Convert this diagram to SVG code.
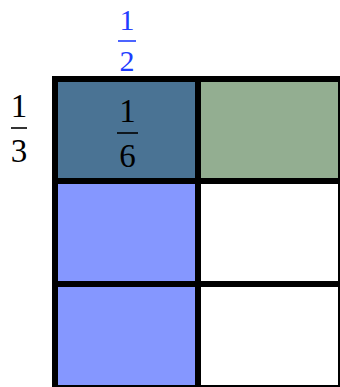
<svg xmlns="http://www.w3.org/2000/svg" width="340" height="387" viewBox="0 0 340 387">
<style>
.t{font-family:"Liberation Serif","Times New Roman",serif;font-size:33px;text-anchor:middle}
.s{font-size:30px}
.blue{fill:#1f3dff}
.bar{stroke-width:1.6}
.grid{stroke:#000;stroke-width:6;fill:none}
</style>
<rect width="340" height="387" fill="#fff"/>
<g id="cells">
<rect x="55" y="79" width="143" height="102" fill="#4a7394"/>
<rect x="198" y="79" width="143" height="102" fill="#93ae91"/>
<rect x="55" y="181" width="143" height="103" fill="#8597ff"/>
<rect x="55" y="284" width="143" height="104" fill="#8597ff"/>
</g>
<g id="grid" class="grid">
<rect x="55" y="79" width="286" height="309"/>
<line x1="198" y1="79" x2="198" y2="388"/>
<line x1="55" y1="181" x2="341" y2="181"/>
<line x1="55" y1="284" x2="341" y2="284"/>
</g>
<g id="label-half">
<text class="t s blue" x="127" y="30">1</text>
<line class="bar" x1="118" y1="41" x2="136" y2="41" stroke="#1f3dff"/>
<text class="t s blue" x="127" y="71">2</text>
</g>
<g id="label-third">
<text class="t" x="19" y="117">1</text>
<line class="bar" x1="11" y1="128" x2="27" y2="128" stroke="#000"/>
<text class="t" x="19" y="162">3</text>
</g>
<g id="label-sixth">
<text class="t" x="127.5" y="122">1</text>
<line class="bar" x1="117" y1="133" x2="138" y2="133" stroke="#000"/>
<text class="t" x="127.5" y="167">6</text>
</g>
</svg>
